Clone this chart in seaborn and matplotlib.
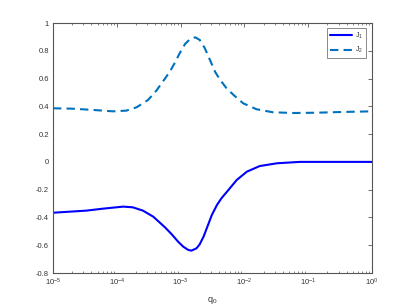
import matplotlib
matplotlib.use("Agg")
import matplotlib.pyplot as plt
import seaborn as sns
import numpy as np
from matplotlib.ticker import LogLocator, NullFormatter

# Data (x given as log10 of q0)
log_q1 = [-5.0, -4.48, -4.22, -3.90, -3.75, -3.59, -3.43, -3.245, -3.14, -3.04,
          -2.96, -2.88, -2.83, -2.75, -2.70, -2.64, -2.59, -2.51, -2.43, -2.36,
          -2.25, -2.12, -1.96, -1.76, -1.49, -1.13, -0.5, 0.0]
J1 = [-0.366, -0.351, -0.337, -0.322, -0.327, -0.351, -0.394, -0.471, -0.521, -0.574,
      -0.610, -0.634, -0.639, -0.622, -0.593, -0.538, -0.478, -0.382, -0.310, -0.262,
      -0.202, -0.130, -0.070, -0.030, -0.010, 0.0, 0.0, 0.0]

log_q2 = [-5.0, -4.69, -4.37, -4.06, -3.85, -3.69, -3.51, -3.38, -3.28, -3.17,
          -3.09, -3.01, -2.93, -2.85, -2.77, -2.70, -2.62, -2.54, -2.46, -2.38,
          -2.28, -2.17, -2.02, -1.81, -1.55, -1.23, -0.87, -0.50, 0.0]
J2 = [0.386, 0.383, 0.374, 0.364, 0.369, 0.393, 0.446, 0.513, 0.577, 0.649,
      0.714, 0.786, 0.849, 0.885, 0.897, 0.878, 0.818, 0.734, 0.649, 0.590,
      0.530, 0.482, 0.422, 0.379, 0.357, 0.352, 0.354, 0.359, 0.364]

labels = ["J$_1$", "J$_2$"]
yticks = [-0.8, -0.6, -0.4, -0.2, 0, 0.2, 0.4, 0.6, 0.8, 1]
ytick_labels = ["-0.8", "-0.6", "-0.4", "-0.2", "0", "0.2", "0.4", "0.6", "0.8", "1"]

q1 = 10 ** np.array(log_q1)
q2 = 10 ** np.array(log_q2)

sns.set_style("white")
plt.rcParams["font.family"] = ["Liberation Sans", "DejaVu Sans"]
plt.rcParams["mathtext.default"] = "regular"

fig = plt.figure(figsize=(4.10, 3.07), dpi=100)
ax = fig.add_axes([53/410, 1 - 273/307, (372 - 53)/410, 250/307])

sns.lineplot(x=q1, y=J1, ax=ax, color="#0000ff", lw=1.5, label=labels[0])
sns.lineplot(x=q2, y=J2, ax=ax, color="#0072bd", lw=1.5, label=labels[1],
             linestyle=(0, (4, 2.5)))

ax.set_xscale("log")
ax.set_xlim(1e-5, 1)
ax.set_ylim(-0.8, 1)
ax.set_yticks(yticks)
ax.set_yticklabels(ytick_labels)
ax.xaxis.set_major_locator(LogLocator(base=10, numticks=10))
ax.xaxis.set_minor_locator(LogLocator(base=10, subs=np.arange(2, 10), numticks=20))
ax.xaxis.set_minor_formatter(NullFormatter())

axcol = "#555555"
for s in ax.spines.values():
    s.set_color(axcol)
    s.set_linewidth(0.8)
ax.tick_params(axis="both", which="major", direction="in", length=3, width=0.6,
               colors=axcol, labelcolor="#333333", labelsize=5.5,
               top=True, right=True, pad=3)
ax.tick_params(axis="x", which="minor", direction="in", length=1.6, width=0.5,
               colors=axcol, top=True, bottom=True)
ax.set_xlabel("q$_0$", fontsize=6.5, color="#333333", labelpad=5)

leg = ax.legend(loc="upper right", fontsize=5, frameon=True, fancybox=False,
                handlelength=3.2, borderpad=0.4, labelspacing=0.6,
                handletextpad=0.4, borderaxespad=0,
                bbox_to_anchor=(0.981, 0.98))
leg.get_frame().set_edgecolor(axcol)
leg.get_frame().set_linewidth(0.6)
for t in leg.get_texts():
    t.set_color("#333333")

fig.savefig("out.png", dpi=100)
